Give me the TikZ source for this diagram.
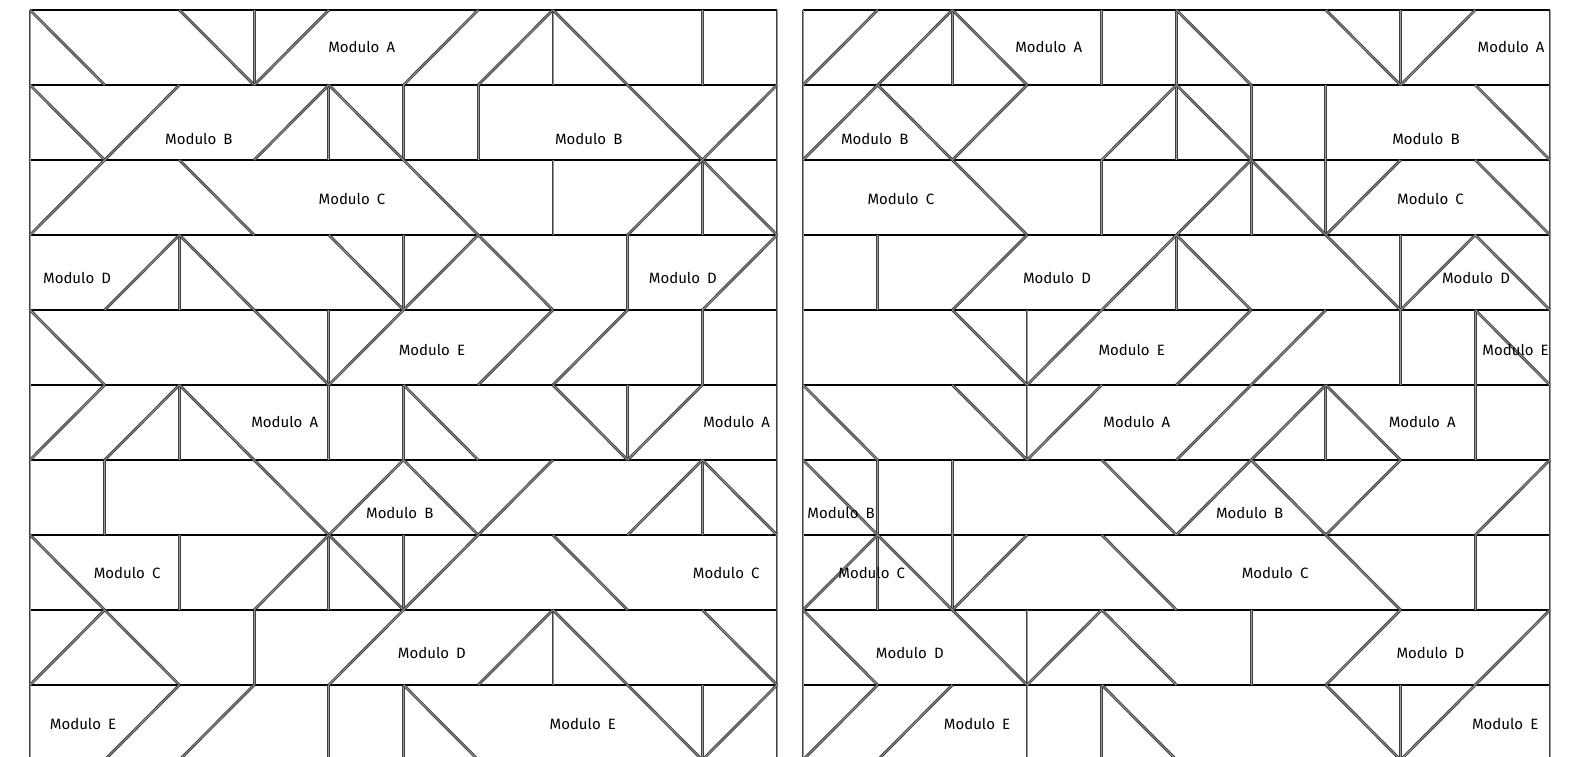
\documentclass[tikz,border=0pt]{standalone}
\usepackage{fontspec}
\setmainfont{Fira Sans}[WordSpace=1.8]
\begin{document}
\begin{tikzpicture}[yscale=-1.004,
    voeg/.style={draw=black, line width=0.55pt},
    snede/.style={draw=black!75, double=black!40, line width=0.38pt, double distance=0.3pt},
    etiket/.style={font=\fontsize{5.7}{6.8}\selectfont, inner sep=0pt}]

  \useasboundingbox (-0.402,-0.1333) rectangle (20.603,9.96);
  \clip (-0.402,-0.1333) rectangle (20.603,9.96);

  % Pannello sinistro
  \begin{scope}
    \foreach \r in {0,...,9}
      \draw[voeg] (0,\r) -- (10,\r);
    \draw[snede] (0,0) -- (0,10);
    \draw[snede] (10,0) -- (10,10);

    % Verticali (colonna/riga)
    \foreach \c/\r in {3/0,7/0,9/0, 4/1,5/1,6/1, 7/2,9/2, 2/3,5/3,8/3,
                       4/4,9/4, 2/5,4/5,5/5,8/5, 1/6,9/6, 2/7,4/7,5/7,
                       3/8,7/8, 4/9,5/9,9/9}
      \draw[snede] (\c,\r) -- (\c,\r+1);

    % Diagonali
    \foreach \a/\b/\c/\d in {0/0/1/1, 2/0/3/1, 3/1/4/0, 5/1/6/0, 6/1/7/0, 7/0/10/3,
                             0/1/1/2, 0/3/2/1, 3/2/4/1, 4/1/7/4, 8/3/10/1, 2/2/3/3,
                             1/4/2/3, 2/3/4/5, 4/3/5/4, 5/4/6/3, 9/4/10/3,
                             0/4/1/5, 4/5/5/4, 6/5/7/4, 7/5/8/4,
                             0/6/1/5, 1/6/2/5, 2/5/4/7, 5/5/6/6, 7/5/8/6, 8/6/9/5,
                             4/7/5/6, 5/6/6/7, 5/8/7/6, 8/7/9/6, 9/6/10/7,
                             0/7/2/9, 3/8/4/7, 4/7/5/8, 7/7/8/8,
                             0/9/1/8, 4/9/5/8, 6/9/7/8, 7/8/9/10, 9/8/10/9,
                             1/10/2/9, 2/10/3/9, 5/9/6/10, 9/10/10/9}
      \draw[snede] (\a,\b) -- (\c,\d);

    % Moduli
    \foreach \x/\y/\m [count=\i] in {4.44/0.49/A, 2.26/1.72/B, 7.48/1.72/B, 4.31/2.52/C,
                                     0.63/3.57/D, 8.74/3.57/D, 5.38/4.53/E, 3.41/5.49/A,
                                     9.46/5.49/A, 4.95/6.71/B, 1.30/7.51/C, 9.32/7.51/C,
                                     5.38/8.57/D, 0.71/9.52/E, 7.40/9.52/E}
      \node[etiket] (sx\i) at (\x,\y) {Modulo \m};
  \end{scope}

  % Pannello destro
  \begin{scope}[shift={(10.348,0)}]
    \foreach \r in {0,...,9}
      \draw[voeg] (0,\r) -- (10,\r);
    \draw[snede] (0,0) -- (0,10);
    \draw[snede] (10,0) -- (10,10);

    % Verticali (colonna/riga)
    \foreach \c/\r in {2/0,4/0,5/0,8/0, 5/1,6/1,7/1, 4/2,6/2,7/2, 1/3,5/3,8/3,
                       3/4,8/4,9/4, 3/5,7/5,9/5, 1/6,2/6, 1/7,2/7,9/7,
                       3/8,6/8, 3/9,4/9,8/9}
      \draw[snede] (\c,\r) -- (\c,\r+1);

    % Diagonali
    \foreach \a/\b/\c/\d in {0/1/1/0, 0/2/2/0, 2/0/3/1, 5/0/6/1, 7/0/8/1, 8/1/9/0,
                             1/1/3/3, 2/2/3/1, 4/2/5/1, 5/1/8/4, 9/1/10/2,
                             3/5/6/2, 7/3/8/2, 9/2/10/3,
                             2/4/3/3, 8/4/9/3, 9/3/10/4, 5/3/6/4,
                             2/4/3/5, 5/5/6/4, 5/6/7/4, 9/4/10/5,
                             0/5/1/6, 2/5/3/6, 3/6/4/5, 5/7/7/5, 7/5/8/6,
                             0/6/2/8, 4/6/5/7, 6/6/8/8, 7/7/8/6, 9/7/10/6,
                             0/8/1/7, 2/8/3/7, 4/7/5/8,
                             0/8/1/9, 2/8/3/9, 3/9/4/8, 4/8/5/9, 7/9/8/8, 8/10/10/8,
                             0/10/1/9, 1/10/2/9, 4/9/5/10, 7/9/8/10}
      \draw[snede] (\a,\b) -- (\c,\d);

    % Moduli
    \foreach \x/\y/\m [count=\i] in {3.29/0.49/A, 9.48/0.49/A, 0.96/1.72/B, 8.34/1.72/B,
                                     1.31/2.52/C, 8.40/2.52/C, 3.40/3.57/D, 9.01/3.57/D,
                                     4.40/4.53/E, 9.54/4.53/E, 4.47/5.49/A, 8.29/5.49/A,
                                     0.51/6.71/B, 5.98/6.71/B, 0.92/7.51/C, 6.32/7.51/C,
                                     1.43/8.57/D, 8.40/8.57/D, 2.33/9.52/E, 9.40/9.52/E}
      \node[etiket] (dx\i) at (\x,\y) {Modulo \m};
  \end{scope}

\end{tikzpicture}
\end{document}
